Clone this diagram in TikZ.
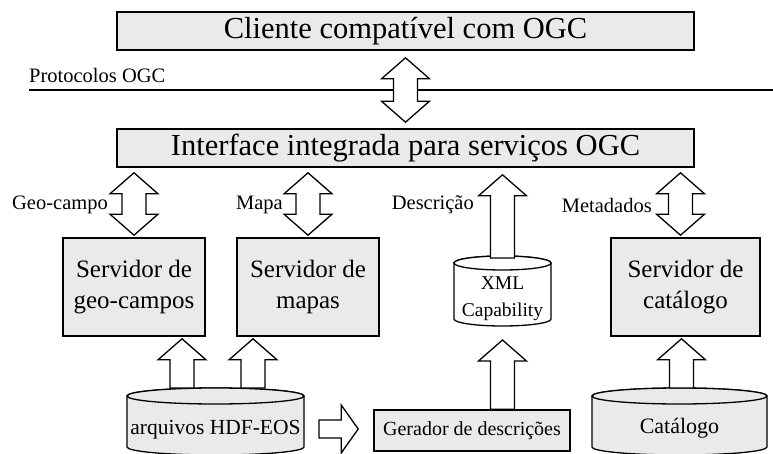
\documentclass[tikz,border=0pt]{standalone}
\usepackage{fontspec}
\setmainfont{Liberation Serif}
\usetikzlibrary{calc}
\definecolor{boxgray}{HTML}{EAEAEA}
\tikzset{
  box/.style={draw, line width=1.6pt, fill=boxgray, inner sep=0pt, align=center},
  ghost/.style={inner sep=0pt, outer sep=0pt},
  arr/.style={draw, line width=1.3pt, fill=white, line join=miter},
  cyl/.style={draw, line width=1.3pt},
  lbl/.style={inner sep=0pt, font=\fontsize{20.5}{24}\selectfont},
  title/.style={font=\fontsize{30.5}{34}\selectfont},
  srv/.style={font=\fontsize{25}{31}\selectfont, minimum height=98pt},
}
% up block arrow: #1 bottom point, #2 tip
\newcommand{\UpBlk}[2]{%
  \draw[arr] let \p1=(#1), \p2=(#2) in
    (\x2-12pt,\y1) -- (\x2-12pt,\y2-21pt) -- (\x2-24pt,\y2-21pt) -- (\x2,\y2)
    -- (\x2+24pt,\y2-21pt) -- (\x2+12pt,\y2-21pt) -- (\x2+12pt,\y1) -- cycle;}
% double block arrow: #1 bottom tip, #2 top tip
\newcommand{\DblBlk}[2]{%
  \draw[arr] let \p1=(#1), \p2=(#2) in
    (\x2,\y2) -- (\x2+24pt,\y2-21pt) -- (\x2+12pt,\y2-21pt) -- (\x2+12pt,\y1+21pt)
    -- (\x2+24pt,\y1+21pt) -- (\x2,\y1) -- (\x2-24pt,\y1+21pt) -- (\x2-12pt,\y1+21pt)
    -- (\x2-12pt,\y2-21pt) -- (\x2-24pt,\y2-21pt) -- cycle;}
% right block arrow: #1 tail point, #2 tip
\newcommand{\RightBlk}[2]{%
  \draw[arr] let \p1=(#1), \p2=(#2) in
    (\x1,\y1+9pt) -- (\x2-17pt,\y1+9pt) -- (\x2-17pt,\y1+24pt) -- (\x2,\y1)
    -- (\x2-17pt,\y1-24pt) -- (\x2-17pt,\y1-9pt) -- (\x1,\y1-9pt) -- cycle;}
% cylinder drawn on the extent of node #1, ellipse y radius #2, fill #3
\newcommand{\CylShape}[3]{%
  \draw[cyl,fill=#3] let \p1=(#1.north west), \p2=(#1.south east), \n1={(\x2-\x1)/2} in
    (\x1,\y1-#2pt) -- (\x1,\y2+#2pt)
    arc[start angle=180,end angle=360,x radius=\n1,y radius=#2pt]
    -- (\x2,\y1-#2pt)
    arc[start angle=0,end angle=180,x radius=\n1,y radius=#2pt] -- cycle;
  \draw[cyl,fill=#3] let \p1=(#1.north west), \p2=(#1.south east), \n1={(\x2-\x1)/2} in
    ($(#1.north)+(0,#2)$) ellipse[x radius=\n1,y radius=#2pt];}
\begin{document}
\begin{tikzpicture}[x=1pt,y=-1pt]
\useasboundingbox (0,0) rectangle (773,454);

% protocol line
\coordinate (pl) at (29,90);
\coordinate (pr) at (773,90);
\draw[line width=2.2pt] (pl) -- (pr);
\node[lbl, anchor=west] (prot) at (29,75) {Protocolos OGC};

% main boxes
\node[box, title, minimum width=577pt, minimum height=38pt] (top) at (405.5,31) {Cliente compatível com OGC};
\node[box, title, minimum width=577pt, minimum height=38pt] (iface) at (405.5,148) {Interface integrada para serviços OGC};

% servers
\node[box, srv, minimum width=142pt] (geo) at (134,287) {Servidor de\\geo-campos};
\node[box, srv, minimum width=142pt] (mapas) at (308,287) {Servidor de\\mapas};
\node[box, srv, minimum width=149pt] (catsrv) at (685.5,287) {Servidor de\\catálogo};

% generator
\node[box, font=\fontsize{20}{24}\selectfont, minimum width=196pt, minimum height=41pt] (gen) at (472,430.5) {Gerador de descrições};

% cylinders
\node[ghost, minimum width=97pt, minimum height=70pt] (xml) at (502.5,291) {};
\CylShape{xml}{7}{white}
\node[inner sep=0pt, align=center, font=\fontsize{19.5}{27}\selectfont] (xmltext) at ($(xml.center)+(0,7.5)$) {XML\\Capability};

\node[ghost, minimum width=177pt, minimum height=67pt] (hdf) at (215.5,421.5) {};
\CylShape{hdf}{8}{boxgray}
\node[inner sep=0pt, font=\fontsize{21.5}{25}\selectfont] (hdftext) at ($(hdf.center)+(0,8.5)$) {arquivos HDF-EOS};

\node[ghost, minimum width=175pt, minimum height=67pt] (cat) at (679.5,421.5) {};
\CylShape{cat}{8}{boxgray}
\node[inner sep=0pt, font=\fontsize{22}{26}\selectfont] (cattext) at ($(cat.center)+(0,7)$) {Catálogo};

% arrows
\coordinate (a0t) at ($(top.south)+(0,7)$);
\coordinate (a0b) at ($(iface.north)+(0,-6)$);
\DblBlk{a0b}{a0t}

\coordinate (a1t) at ($(iface.south -| geo.north)+(0,5)$);
\coordinate (a1b) at ($(geo.north)+(0,-2)$);
\DblBlk{a1b}{a1t}

\coordinate (a2t) at ($(iface.south -| mapas.north)+(0,5)$);
\coordinate (a2b) at ($(mapas.north)+(0,-2)$);
\DblBlk{a2b}{a2t}

\coordinate (a4t) at ($(iface.south -| catsrv.north)+(-5,5)$);
\coordinate (a4b) at ($(catsrv.north)+(-5,-2)$);
\DblBlk{a4b}{a4t}

\coordinate (a3t) at ($(iface.south -| xml.north)+(0,7)$);
\coordinate (a3b) at ($(xml.north)+(0,2)$);
\UpBlk{a3b}{a3t}

\coordinate (g1t) at ($(xml.south)+(0,14)$);
\coordinate (g1b) at (gen.north -| xml.south);
\UpBlk{g1b}{g1t}

\coordinate (h1t) at ($(geo.south)+(48,2)$);
\coordinate (h1b) at (h1t |- hdf.north);
\UpBlk{h1b}{h1t}

\coordinate (h2t) at ($(mapas.south)+(-55,2)$);
\coordinate (h2b) at (h2t |- hdf.north);
\UpBlk{h2b}{h2t}

\coordinate (c1t) at ($(catsrv.south)+(-4,2)$);
\coordinate (c1b) at (c1t |- cat.north);
\UpBlk{c1b}{c1t}

\coordinate (r1l) at ($(hdf.east)+(15,7.5)$);
\coordinate (r1r) at ($(gen.west)+(-15,0)$);
\RightBlk{r1l}{r1r}

% labels
\node[lbl, anchor=east] (lgeo) at (108,205) {Geo-campo};
\node[lbl, anchor=east] (lmapa) at (283,205) {Mapa};
\node[lbl, anchor=east] (ldesc) at (474,205) {Descrição};
\node[lbl, anchor=east] (lmeta) at (652,205) {Metadados};
\end{tikzpicture}
\end{document}
